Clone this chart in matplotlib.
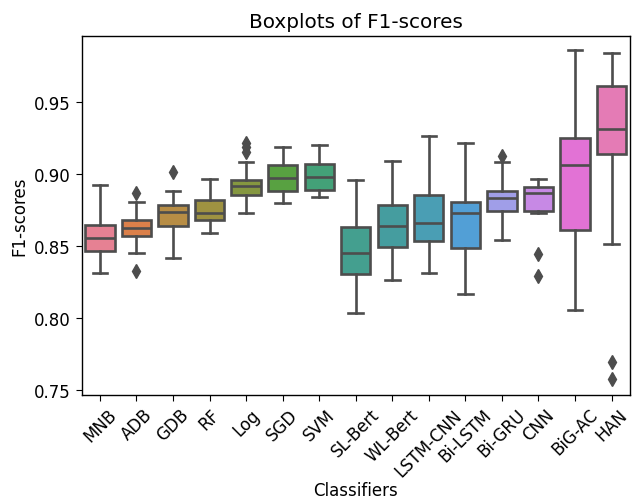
import colorsys
import numpy as np
import matplotlib
matplotlib.use('Agg')
import matplotlib.pyplot as plt
import seaborn as sns

classifiers = ['MNB', 'ADB', 'GDB', 'RF', 'Log', 'SGD', 'SVM', 'SL-Bert', 'WL-Bert',
               'LSTM-CNN', 'Bi-LSTM', 'Bi-GRU', 'CNN', 'BiG-AC', 'HAN']

# box statistics
whislo = [0.8312, 0.8451, 0.8417, 0.8590, 0.8729, 0.8799, 0.8840, 0.8035, 0.8266,
          0.8312, 0.8164, 0.8544, 0.8729, 0.8058, 0.8516]
q1 = [0.8463, 0.8567, 0.8636, 0.8678, 0.8852, 0.8882, 0.8893, 0.8308, 0.8493,
      0.8532, 0.8486, 0.8747, 0.8747, 0.8613, 0.9141]
med = [0.8556, 0.8625, 0.8740, 0.8729, 0.8917, 0.8972, 0.8979, 0.8451, 0.8636,
       0.8660, 0.8729, 0.8833, 0.8868, 0.9060, 0.9315]
q3 = [0.8643, 0.8678, 0.8787, 0.8822, 0.8956, 0.9060, 0.9067, 0.8632, 0.8782,
      0.8852, 0.8806, 0.8886, 0.8910, 0.9252, 0.9615]
whishi = [0.8921, 0.8806, 0.8886, 0.8967, 0.9083, 0.9187, 0.9206, 0.8956, 0.9090,
          0.9264, 0.9217, 0.9083, 0.8967, 0.9865, 0.9840]
fliers = [[], [0.8868, 0.8326], [0.9018], [], [0.9215, 0.9187, 0.9157], [], [], [], [],
          [], [], [0.9129], [0.8442, 0.8292], [], [0.7694, 0.7578]]

stats = []
for i in range(len(classifiers)):
    stats.append(dict(med=med[i], q1=q1[i], q3=q3[i], whislo=whislo[i],
                      whishi=whishi[i], fliers=fliers[i], label=classifiers[i]))

plt.rcParams['font.size'] = 12
plt.rcParams['xtick.major.size'] = 4.2
plt.rcParams['ytick.major.size'] = 4.2
plt.rcParams['axes.linewidth'] = 1.0

pal = sns.color_palette('husl', len(classifiers))
colors = [sns.desaturate(c, 0.75) for c in pal]
lum = min(colorsys.rgb_to_hls(*c)[1] for c in colors) * .6
lum = lum + 0.05
gray = (lum, lum, lum)

fig = plt.figure(figsize=(6.33, 5.02), dpi=100)
ax = fig.add_axes([0.129, 0.212, 0.866, 0.715])

lw = 1.9
bp = ax.bxp(stats, positions=np.arange(len(classifiers)), widths=0.8,
            patch_artist=True, showfliers=True,
            boxprops=dict(edgecolor=gray, linewidth=lw),
            medianprops=dict(color=gray, linewidth=lw),
            whiskerprops=dict(color=gray, linewidth=lw),
            capprops=dict(color=gray, linewidth=lw),
            flierprops=dict(marker='d', markerfacecolor=gray, markeredgecolor=gray,
                            markersize=7, linestyle='none'))
for patch, c in zip(bp['boxes'], colors):
    patch.set_facecolor(c)
for cap in bp['caps']:
    xd = cap.get_xdata()
    mid = (xd[0] + xd[1]) / 2
    cap.set_xdata([mid - 0.2, mid + 0.2])

ax.set_xlim(-0.5, len(classifiers) - 0.5)
ax.set_ylim(0.7467, 0.9963)
ax.set_yticks([0.75, 0.80, 0.85, 0.90, 0.95])
ax.set_xticks(np.arange(len(classifiers)))
ax.set_xticklabels(classifiers, rotation=45)
ax.set_title('Boxplots of F1-scores')
ax.set_xlabel('Classifiers', labelpad=1)
ax.set_ylabel('F1-scores')
plt.savefig('out.png', dpi=100)
